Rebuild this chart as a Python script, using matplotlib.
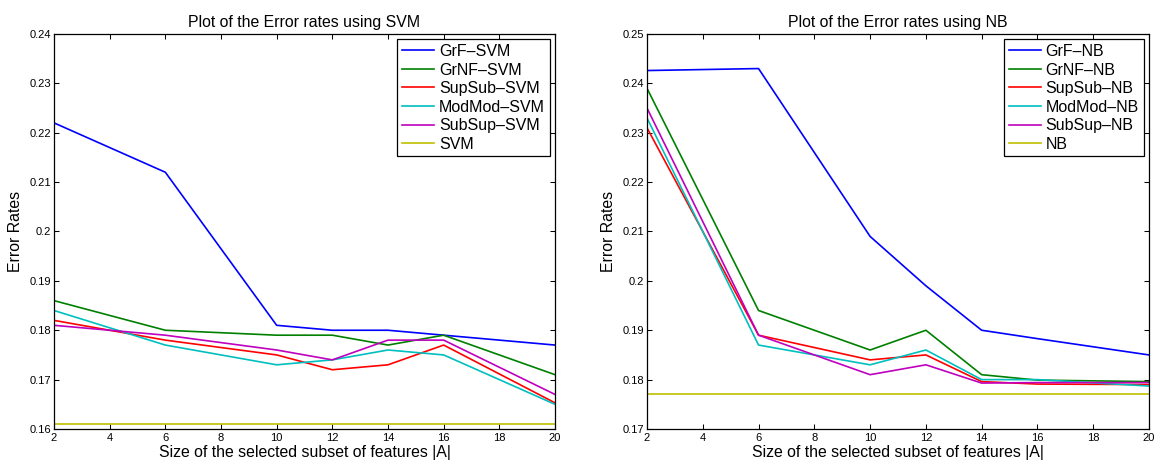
import matplotlib
matplotlib.use("Agg")
import matplotlib.pyplot as plt
from matplotlib.ticker import FuncFormatter, MultipleLocator

plt.rcParams['font.family'] = ['Liberation Sans', 'DejaVu Sans']

# Subset sizes |A|
subset_sizes = [2, 6, 10, 12, 14, 16, 20]

# Error rates with SVM classifier
svm_labels = ['GrF\u2013SVM', 'GrNF\u2013SVM', 'SupSub\u2013SVM', 'ModMod\u2013SVM', 'SubSup\u2013SVM', 'SVM']
grf_svm    = [0.222, 0.212, 0.181, 0.180, 0.180, 0.179, 0.177]
grnf_svm   = [0.186, 0.180, 0.179, 0.179, 0.177, 0.179, 0.171]
supsub_svm = [0.182, 0.178, 0.175, 0.172, 0.173, 0.177, 0.1653]
modmod_svm = [0.184, 0.177, 0.173, 0.174, 0.176, 0.175, 0.165]
subsup_svm = [0.181, 0.179, 0.176, 0.174, 0.178, 0.178, 0.167]
base_svm   = [0.161, 0.161, 0.161, 0.161, 0.161, 0.161, 0.161]

# Error rates with Naive Bayes classifier
nb_labels = ['GrF\u2013NB', 'GrNF\u2013NB', 'SupSub\u2013NB', 'ModMod\u2013NB', 'SubSup\u2013NB', 'NB']
grf_nb    = [0.2426, 0.2430, 0.209, 0.199, 0.190, 0.1883, 0.185]
grnf_nb   = [0.239, 0.194, 0.186, 0.190, 0.181, 0.1799, 0.1796]
supsub_nb = [0.231, 0.189, 0.184, 0.185, 0.1796, 0.1791, 0.1790]
modmod_nb = [0.233, 0.187, 0.183, 0.186, 0.180, 0.180, 0.1787]
subsup_nb = [0.235, 0.189, 0.181, 0.183, 0.1793, 0.1794, 0.1794]
base_nb   = [0.177, 0.177, 0.177, 0.177, 0.177, 0.177, 0.177]

# MATLAB-style line colours
colors = [(0, 0, 1), (0, 0.5, 0), (1, 0, 0), (0, 0.75, 0.75), (0.75, 0, 0.75), (0.75, 0.75, 0)]

fig = plt.figure(figsize=(11.55, 4.62), dpi=100)
ax1 = fig.add_axes([0.04675, 0.07143, 0.43377, 0.85498])
ax2 = fig.add_axes([0.56017, 0.07143, 0.43463, 0.85498])


def draw(ax, series, labels, title, ylim):
    for ys, lab, c in zip(series, labels, colors):
        ax.plot(subset_sizes, ys, color=c, lw=1.2, label=lab)
    ax.set_xlim(2, 20)
    ax.set_ylim(*ylim)
    ax.xaxis.set_major_locator(MultipleLocator(2))
    ax.yaxis.set_major_locator(MultipleLocator(0.01))
    ax.yaxis.set_major_formatter(FuncFormatter(lambda v, p: '%g' % round(v, 4)))
    ax.tick_params(direction='in', top=True, right=True, length=3.5, width=0.75,
                   labelsize=8, pad=2)
    ax.tick_params(axis='x', pad=3)
    for s in ax.spines.values():
        s.set_linewidth(0.9)
    ax.set_title(title, fontsize=11.4, pad=5)
    ax.set_xlabel('Size of the selected subset of features |A|', fontsize=11.4)
    ax.set_ylabel('Error Rates', fontsize=11.4)
    ax.xaxis.set_label_coords(0.5, -0.041)
    ax.yaxis.set_label_coords(-0.062, 0.5)
    leg = ax.legend(loc='upper right', fontsize=11.5, frameon=True, fancybox=False,
                    edgecolor='black', framealpha=1, borderpad=0.3, labelspacing=0.22,
                    handlelength=2.0, handletextpad=0.3, borderaxespad=0.33)
    leg.get_frame().set_linewidth(0.9)


draw(ax1, [grf_svm, grnf_svm, supsub_svm, modmod_svm, subsup_svm, base_svm],
     svm_labels, 'Plot of the Error rates using SVM', (0.16, 0.24))
draw(ax2, [grf_nb, grnf_nb, supsub_nb, modmod_nb, subsup_nb, base_nb],
     nb_labels, 'Plot of the Error rates using NB', (0.17, 0.25))

fig.savefig('out.png', dpi=100)
